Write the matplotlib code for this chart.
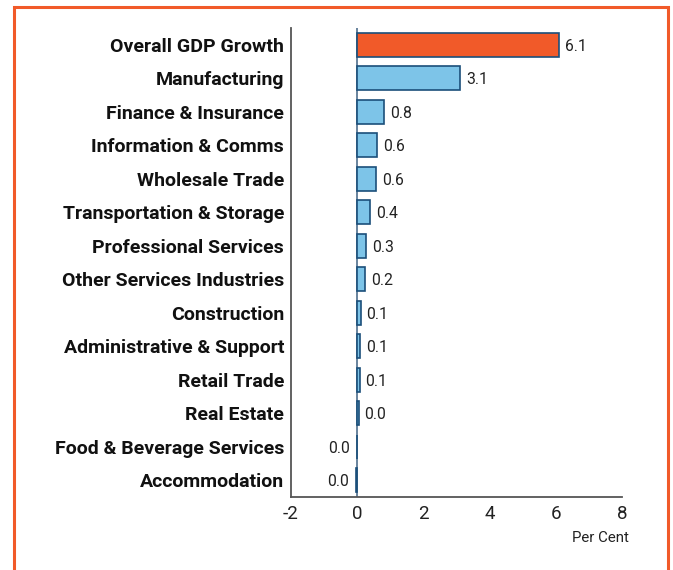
import matplotlib
matplotlib.use("Agg")
import matplotlib.pyplot as plt
from matplotlib.patches import Rectangle

categories = [
    "Overall GDP Growth", "Manufacturing", "Finance & Insurance",
    "Information & Comms", "Wholesale Trade", "Transportation & Storage",
    "Professional Services", "Other Services Industries", "Construction",
    "Administrative & Support", "Retail Trade", "Real Estate",
    "Food & Beverage Services", "Accommodation",
]
values = [6.1, 3.1, 0.8, 0.6, 0.57, 0.38, 0.28, 0.24, 0.1, 0.08, 0.07, 0.04, -0.01, -0.03]
x_ticks = [-2, 0, 2, 4, 6, 8]

plt.rcParams["font.family"] = ["Roboto", "DejaVu Sans"]

fig = plt.figure(figsize=(6.73, 5.70), dpi=100)
ax = fig.add_axes([291 / 673, 1 - 497 / 570, (622 - 291) / 673, (497 - 28) / 570])

orange = "#F15A29"
blue = "#7DC4E8"
edge = "#1B4F7A"
colors = [orange] + [blue] * (len(values) - 1)
ypos = list(range(len(categories)))

ax.barh(ypos, values, height=0.72, color=colors, edgecolor=edge, linewidth=1.2, zorder=3)
ax.axvline(0, color="#4F6E8C", linewidth=1.2, zorder=2)

for y, v in zip(ypos, values):
    txt = "%.1f" % (round(v, 1) + 0.0)
    if v >= 0:
        ax.text(v + 0.18, y + 0.05, txt, va="center", ha="left", fontsize=11.3, color="#222222")
    else:
        ax.text(v - 0.22, y + 0.05, txt, va="center", ha="right", fontsize=11.3, color="#222222")

ax.set_xlim(-2, 8)
ax.set_ylim(13.5, -0.5)
ax.set_xticks(x_ticks)
ax.set_xticklabels([str(t) for t in x_ticks], fontsize=13.5, color="#222222")
ax.set_yticks(ypos)
ax.set_yticklabels(categories, fontsize=14, fontweight="bold", color="#111111")
ax.tick_params(axis="both", length=0)
ax.tick_params(axis="y", pad=5)
ax.tick_params(axis="x", pad=6)

for s in ["top", "right"]:
    ax.spines[s].set_visible(False)
for s in ["left", "bottom"]:
    ax.spines[s].set_color("#555555")
    ax.spines[s].set_linewidth(1.3)

fig.text(600 / 673, 1 - 538 / 570, "Per Cent", ha="center", va="center", fontsize=10.8, color="#222222")

fig.patches.append(Rectangle((14 / 673, -0.1), (668 - 14) / 673, 1.1 - 7 / 570,
                             transform=fig.transFigure, fill=False,
                             edgecolor=orange, linewidth=2.2, zorder=10))

fig.savefig("out.png", dpi=100)
